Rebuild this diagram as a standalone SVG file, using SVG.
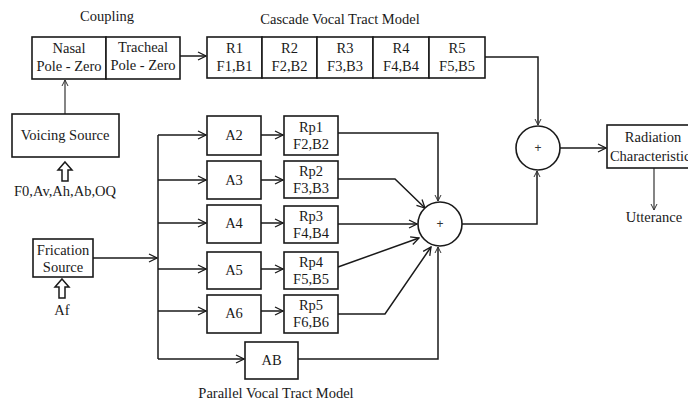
<svg xmlns="http://www.w3.org/2000/svg" width="688" height="404" viewBox="0 0 688 404">
<style>
text{font-family:"Liberation Serif","Times New Roman",serif;font-size:14.5px;fill:#1a1a1a;text-anchor:middle}
.box{fill:#fff;stroke:#1a1a1a;stroke-width:1.6}
.ln{fill:none;stroke:#1a1a1a;stroke-width:1.5}
.thin{fill:none;stroke:#333;stroke-width:1.2}
.hol{fill:#fff;stroke:#1a1a1a;stroke-width:1.5;stroke-linejoin:miter}
.plus{font-family:"Liberation Sans",Arial,sans-serif;font-size:12px;fill:#333}
</style>
<defs>
<marker id="ar" markerWidth="10" markerHeight="10" refX="9" refY="5" orient="auto" markerUnits="userSpaceOnUse">
<path d="M1,1 L9,5 L1,9" fill="none" stroke="#1a1a1a" stroke-width="1.3"/>
</marker>
<marker id="sm" markerWidth="8" markerHeight="8" refX="7" refY="4" orient="auto" markerUnits="userSpaceOnUse">
<path d="M1,1 L7,4 L1,7" fill="none" stroke="#333" stroke-width="1"/>
</marker>
</defs>
<rect width="688" height="404" fill="#fff"/>

<text x="107" y="21">Coupling</text>
<text x="340" y="24">Cascade Vocal Tract Model</text>
<text x="276" y="398">Parallel Vocal Tract Model</text>

<g id="connectors">
<path class="thin" d="M65,114 V80" marker-end="url(#sm)"/>
<path class="ln" d="M180,56 H206" marker-end="url(#ar)"/>
<path class="ln" d="M485,57 H538 V125" marker-end="url(#sm)"/>
<path class="ln" d="M560,148 H606" marker-end="url(#ar)"/>
<path class="thin" d="M654,168 V210" marker-end="url(#sm)"/>
<path class="ln" d="M462,224 H537 V171" marker-end="url(#sm)"/>
<path class="ln" d="M158,135 V359"/>
<path class="ln" d="M93,258 H157" marker-end="url(#ar)"/>
<path class="ln" d="M158,135 H206" marker-end="url(#ar)"/>
<path class="ln" d="M158,180 H206" marker-end="url(#ar)"/>
<path class="ln" d="M158,223 H206" marker-end="url(#ar)"/>
<path class="ln" d="M158,269 H206" marker-end="url(#ar)"/>
<path class="ln" d="M158,311 H206" marker-end="url(#ar)"/>
<path class="ln" d="M158,359 H244" marker-end="url(#ar)"/>
<path class="ln" d="M261,135 H283" marker-end="url(#ar)"/>
<path class="ln" d="M261,180 H283" marker-end="url(#ar)"/>
<path class="ln" d="M261,223 H283" marker-end="url(#ar)"/>
<path class="ln" d="M261,269 H283" marker-end="url(#ar)"/>
<path class="ln" d="M261,311 H283" marker-end="url(#ar)"/>
<path class="ln" d="M338,133 H438 V201" marker-end="url(#sm)"/>
<path class="ln" d="M338,179 H395 L425,208" marker-end="url(#ar)"/>
<path class="ln" d="M338,224 H417" marker-end="url(#ar)"/>
<path class="ln" d="M338,267 L419,238" marker-end="url(#ar)"/>
<path class="ln" d="M338,314 H385 L431,247" marker-end="url(#ar)"/>
<path class="ln" d="M298,359 H438 V247" marker-end="url(#sm)"/>
</g>

<g id="nasal"><rect class="box" x="32" y="37" width="74" height="42"/><text x="69" y="53">Nasal</text><text x="69" y="71">Pole - Zero</text></g>
<g id="tracheal"><rect class="box" x="106" y="37" width="74" height="42"/><text x="143" y="52">Tracheal</text><text x="143" y="70">Pole - Zero</text></g>
<g id="r1"><rect class="box" x="207" y="37" width="55" height="41"/><text x="234.5" y="53">R1</text><text x="234.5" y="71">F1,B1</text></g>
<g id="r2"><rect class="box" x="262" y="37" width="55" height="41"/><text x="289.5" y="53">R2</text><text x="289.5" y="71">F2,B2</text></g>
<g id="r3"><rect class="box" x="317" y="37" width="56" height="41"/><text x="345" y="53">R3</text><text x="345" y="71">F3,B3</text></g>
<g id="r4"><rect class="box" x="373" y="37" width="56" height="41"/><text x="401" y="53">R4</text><text x="401" y="71">F4,B4</text></g>
<g id="r5"><rect class="box" x="429" y="37" width="56" height="41"/><text x="457" y="53">R5</text><text x="457" y="71">F5,B5</text></g>

<g id="voicing"><rect class="box" x="12" y="114" width="107" height="43"/><text x="65" y="140">Voicing Source</text>
<path class="hol" d="M65,162 L72,170 L68,170 L68,181 L62,181 L62,170 L58,170 Z"/>
<text x="65" y="196">F0,Av,Ah,Ab,OQ</text></g>

<g id="frication"><rect class="box" x="33" y="239" width="60" height="38"/><text x="63" y="255">Frication</text><text x="63" y="272">Source</text>
<path class="hol" d="M62,279 L69,287 L65,287 L65,298 L59,298 L59,287 L55,287 Z"/>
<text x="62" y="315">Af</text></g>

<g id="a2"><rect class="box" x="207" y="116" width="54" height="39"/><text x="234" y="140">A2</text></g>
<g id="a3"><rect class="box" x="207" y="161" width="54" height="38"/><text x="234" y="185">A3</text></g>
<g id="a4"><rect class="box" x="207" y="205" width="54" height="38"/><text x="234" y="228">A4</text></g>
<g id="a5"><rect class="box" x="207" y="252" width="54" height="37"/><text x="234" y="275">A5</text></g>
<g id="a6"><rect class="box" x="207" y="295" width="54" height="38"/><text x="234" y="318">A6</text></g>
<g id="ab"><rect class="box" x="245" y="342" width="53" height="37"/><text x="271.5" y="365">AB</text></g>

<g id="rp1"><rect class="box" x="284" y="116" width="54" height="39"/><text x="311" y="132">Rp1</text><text x="311" y="149">F2,B2</text></g>
<g id="rp2"><rect class="box" x="284" y="161" width="54" height="37"/><text x="311" y="176">Rp2</text><text x="311" y="193">F3,B3</text></g>
<g id="rp3"><rect class="box" x="284" y="206" width="54" height="37"/><text x="311" y="221">Rp3</text><text x="311" y="238">F4,B4</text></g>
<g id="rp4"><rect class="box" x="284" y="252" width="54" height="37"/><text x="311" y="267">Rp4</text><text x="311" y="284">F5,B5</text></g>
<g id="rp5"><rect class="box" x="284" y="295" width="54" height="38"/><text x="311" y="310">Rp5</text><text x="311" y="327">F6,B6</text></g>

<g id="sum1"><circle class="box" cx="538" cy="148" r="22"/><text class="plus" x="538" y="152">+</text></g>
<g id="sum2"><circle class="box" cx="440" cy="224" r="22"/><text class="plus" x="440" y="228">+</text></g>

<g id="radiation"><rect class="box" x="607" y="125" width="100" height="43"/><text x="653" y="142">Radiation</text><text x="653" y="161">Characteristics</text></g>
<g id="utterance"><text x="654" y="222">Utterance</text></g>
</svg>
